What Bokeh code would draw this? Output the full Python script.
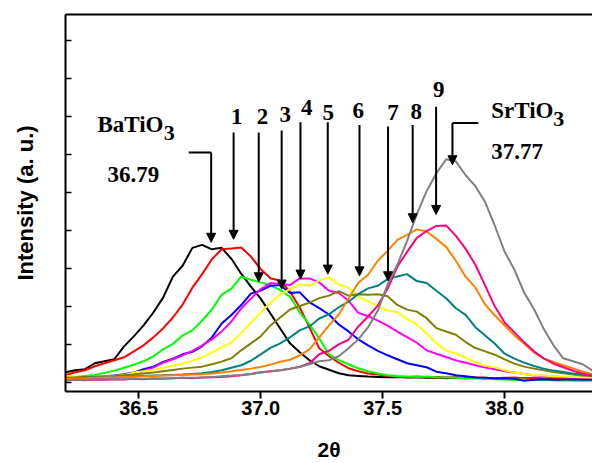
from bokeh.plotting import figure
from bokeh.models import (ColumnDataSource, Arrow, NormalHead, FixedTicker,
                          SingleIntervalTicker, LinearAxis, PrintfTickFormatter,
                          CustomJSTickFormatter)
from bokeh.core.properties import value
from bokeh.embed import file_html
from bokeh.resources import INLINE

# ---------------- data ----------------
two_theta = [36.20, 36.24, 36.28, 36.32, 36.36, 36.40, 36.44, 36.48, 36.52, 36.56,
             36.60, 36.64, 36.68, 36.72, 36.76, 36.80, 36.84, 36.88, 36.92, 36.96,
             37.00, 37.04, 37.08, 37.12, 37.16, 37.20, 37.24, 37.28, 37.32, 37.36,
             37.40, 37.44, 37.48, 37.52, 37.56, 37.60, 37.64, 37.68, 37.72, 37.76,
             37.80, 37.84, 37.88, 37.92, 37.96, 38.00, 38.04, 38.08, 38.12, 38.16,
             38.20, 38.24, 38.28, 38.32, 38.36]

batio3 = [10.0, 12.0, 13.0, 19.0, 21.0, 23.0, 36.0, 46.0, 57.0, 70.0,
          85.0, 106.0, 117.0, 135.0, 138.0, 133.5, 135.0, 124.0, 109.0, 96.0,
          84.0, 69.0, 54.0, 39.0, 30.0, 22.0, 16.0, 12.5, 9.0, 6.9,
          6.3, 5.6, 5.3, 5.0, 5.3, 4.6, 4.9, 4.3, 4.6, 4.0,
          4.3, 3.9, 4.3, 3.6, 4.0, 3.6, 3.3, 3.9, 3.6, 3.3,
          3.0, 3.6, 3.3, 3.0, 3.3]
s1 = [7.0, 10.0, 12.0, 16.0, 19.0, 22.0, 25.0, 31.0, 37.0, 45.0,
      54.0, 65.0, 78.0, 95.0, 108.6, 123.6, 133.6, 134.3, 135.3, 126.3,
      113.6, 104.5, 102.0, 91.0, 75.0, 55.0, 34.0, 26.0, 19.5, 14.0,
      11.0, 8.6, 7.6, 6.3, 5.6, 5.3, 5.6, 4.9, 5.3, 4.6,
      4.9, 4.3, 4.6, 4.3, 3.9, 4.3, 4.6, 3.9, 4.3, 3.6,
      4.0, 3.6, 3.9, 3.3, 3.6]
s2 = [4.3, 5.3, 6.3, 7.3, 9.3, 11.6, 14.5, 17.6, 21.0, 26.0,
      33.0, 38.5, 47.0, 52.0, 62.0, 73.0, 88.0, 94.0, 106.0, 103.0,
      100.3, 97.5, 92.5, 86.0, 70.0, 58.0, 44.0, 28.0, 22.0, 18.0,
      14.0, 11.0, 8.6, 7.0, 6.0, 5.6, 5.3, 5.6, 4.9, 4.6,
      4.3, 3.6, 3.9, 3.3, 3.0, 2.6, 2.3, 2.6, 2.0, 2.3,
      1.6, 2.0, 1.3, 1.6, 1.3]
s3 = [4.3, 4.6, 5.0, 5.3, 5.9, 6.6, 8.0, 9.6, 13.0, 15.6,
      20.3, 23.6, 28.0, 30.5, 36.0, 45.0, 59.0, 67.5, 77.5, 89.0,
      92.0, 96.9, 97.6, 89.6, 90.3, 80.3, 74.5, 68.0, 58.0, 51.0,
      43.0, 37.0, 31.5, 27.0, 23.0, 19.0, 17.0, 15.0, 10.5, 9.0,
      7.0, 6.0, 4.6, 4.3, 3.6, 3.9, 3.3, 1.3, 2.3, 2.9,
      2.3, 2.6, 3.0, 2.3, 2.6]
s4 = [2.6, 3.3, 3.6, 3.9, 4.3, 4.6, 5.6, 7.6, 11.0, 14.6,
      19.6, 23.0, 27.0, 31.5, 37.0, 43.0, 51.0, 61.0, 74.0, 84.0,
      93.6, 99.6, 98.6, 97.6, 104.3, 104.3, 100.3, 91.9, 89.6, 81.9,
      69.6, 66.3, 61.9, 56.9, 50.9, 45.3, 39.6, 31.9, 28.6, 25.3,
      21.9, 19.6, 16.9, 14.6, 12.9, 10.9, 9.6, 8.3, 6.9, 6.3,
      5.6, 5.0, 4.9, 4.6, 4.3]
s5 = [6.0, 5.6, 5.3, 5.6, 5.9, 6.3, 7.3, 9.6, 11.0, 12.5,
      14.3, 16.5, 18.6, 21.5, 25.0, 30.0, 35.0, 40.0, 49.0, 60.0,
      70.0, 80.0, 88.0, 93.6, 98.3, 96.9, 102.3, 105.3, 98.0, 95.0,
      86.0, 81.5, 76.5, 72.0, 70.3, 63.6, 58.0, 49.0, 39.0, 31.6,
      29.0, 24.5, 20.0, 16.8, 15.0, 12.0, 9.6, 8.3, 7.3, 6.6,
      6.0, 5.6, 5.3, 5.0, 4.6]
s6 = [4.6, 4.9, 5.3, 5.6, 5.9, 6.3, 6.9, 7.6, 8.6, 9.6,
      11.0, 12.3, 13.6, 14.6, 15.6, 18.0, 20.6, 24.0, 32.0, 39.0,
      46.0, 57.0, 65.0, 73.0, 76.5, 80.0, 84.5, 87.0, 91.6, 86.9,
      88.3, 87.9, 88.3, 86.3, 77.6, 72.9, 70.9, 64.3, 54.3, 50.9,
      47.6, 40.3, 34.3, 30.9, 27.6, 22.9, 18.6, 15.6, 13.6, 11.9,
      10.3, 8.9, 7.6, 6.6, 6.0]
s7 = [3.6, 3.9, 4.3, 4.6, 4.9, 5.3, 5.6, 6.0, 6.3, 6.6,
      6.9, 7.3, 7.6, 8.3, 9.0, 10.3, 12.0, 14.5, 17.0, 21.5,
      28.0, 34.5, 39.0, 45.0, 52.0, 56.0, 64.0, 68.3, 75.3, 80.9,
      88.6, 94.3, 96.9, 103.6, 106.3, 108.6, 101.6, 99.6, 91.9, 84.3,
      74.3, 67.6, 55.3, 46.9, 38.6, 28.6, 23.6, 19.6, 16.3, 13.6,
      11.6, 10.3, 8.6, 7.6, 6.9]
s8 = [3.3, 3.6, 3.9, 4.3, 4.6, 4.9, 5.3, 5.6, 5.9, 6.3,
      6.6, 6.9, 7.3, 7.6, 8.0, 8.6, 9.6, 10.9, 12.3, 13.6,
      15.3, 17.6, 20.5, 22.5, 27.0, 33.0, 45.0, 57.0, 68.0, 84.0,
      100.0, 108.0, 122.0, 132.0, 143.0, 148.0, 153.6, 151.5, 144.0, 136.0,
      122.0, 106.0, 95.0, 78.0, 67.0, 57.0, 47.0, 38.6, 30.0, 23.6,
      20.3, 17.0, 13.8, 10.5, 8.0]
s9 = [1.6, 2.3, 2.0, 2.6, 2.3, 2.9, 2.6, 3.3, 3.0, 3.6,
      3.3, 3.9, 4.3, 4.0, 4.6, 4.9, 5.3, 6.0, 7.0, 8.3,
      10.0, 11.0, 12.0, 13.5, 15.5, 19.0, 28.0, 31.5, 38.0, 42.6,
      56.0, 66.0, 77.0, 94.0, 116.0, 131.0, 145.0, 151.9, 157.0, 157.6,
      147.0, 134.0, 118.0, 97.0, 76.0, 60.0, 50.0, 40.0, 31.0, 24.0,
      18.5, 15.0, 11.5, 8.6, 6.5]
srtio3 = [2.0, 2.3, 2.3, 2.6, 2.6, 2.9, 2.9, 3.3, 3.3, 3.6,
          3.6, 3.9, 4.3, 4.3, 4.6, 5.3, 6.0, 6.6, 7.3, 8.3,
          9.6, 10.6, 12.0, 13.6, 15.3, 18.0, 21.0, 22.0, 26.0, 34.0,
          43.0, 55.0, 72.0, 98.0, 118.0, 142.0, 169.0, 192.0, 210.0, 224.0,
          222.0, 208.0, 197.0, 181.0, 157.0, 131.0, 113.0, 90.0, 73.6, 53.6,
          37.0, 24.0, 21.0, 18.0, 11.6]

series = [batio3, s1, s2, s3, s4, s5, s6, s7, s8, s9, srtio3]
colors = ["#000000", "#FF0000", "#00FF00", "#0000FF", "#FF00FF", "#FFFF00",
          "#808000", "#008080", "#FF8000", "#FF0080", "#808080"]

xticks = [36.5, 37.0, 37.5, 38.0]

# peak markers (arrows) for samples 1..9
num_labels = ["1", "2", "3", "4", "5", "6", "7", "8", "9"]
num_x = [36.902, 37.007, 37.101, 37.189, 37.277, 37.400, 37.542, 37.638, 37.730]
num_y = [267.0, 267.0, 269.0, 276.0, 271.0, 273.0, 271.0, 272.0, 294.0]
arrow_x = [36.889, 36.992, 37.086, 37.163, 37.275, 37.405, 37.522, 37.623, 37.719]
arrow_top = [250.9, 250.9, 252.9, 261.3, 261.3, 258.6, 256.9, 258.6, 276.9]
arrow_tip = [143.6, 100.9, 93.6, 103.6, 108.6, 106.9, 101.9, 160.3, 168.6]

# end members
ba_peak, ba_bracket_y, ba_tip, ba_bracket_x0 = 36.797, 230.9, 140.6, 36.705
sr_peak, sr_bracket_y, sr_tip, sr_bracket_x1 = 37.786, 260.6, 218.6, 37.892

# ---------------- figure ----------------
p = figure(width=592, height=463, x_range=(36.2, 38.36), y_range=(-9.4, 369.6),
           output_backend="svg", toolbar_location=None,
           min_border_left=65, min_border_right=0, min_border_top=14, min_border_bottom=70)
p.outline_line_color = None
p.xgrid.visible = False
p.ygrid.visible = False
p.background_fill_color = "white"
p.border_fill_color = "white"

xa = p.xaxis[0]
xa.ticker = FixedTicker(ticks=xticks)
xa.formatter = PrintfTickFormatter(format="%.1f")
xa.major_tick_out = 7
xa.major_tick_in = 0
xa.minor_tick_out = 0
xa.minor_tick_in = 0
xa.axis_line_width = 2
xa.major_tick_line_width = 2
xa.major_label_text_font = "Liberation Sans"
xa.major_label_text_font_style = "bold"
xa.major_label_text_font_size = "20px"
xa.major_label_text_color = "black"
xa.major_label_standoff = 2
xa.axis_label = "2θ"
xa.axis_label_text_font = "Liberation Sans"
xa.axis_label_text_font_style = "bold"
xa.axis_label_text_font_size = "21px"
xa.axis_label_text_color = "black"
xa.axis_label_standoff = 20

ya = p.yaxis[0]
ya.ticker = SingleIntervalTicker(interval=38.2, num_minor_ticks=0)
ya.formatter = CustomJSTickFormatter(code="return ''")
ya.major_tick_in = 6
ya.major_tick_out = 0
ya.minor_tick_in = 0
ya.minor_tick_out = 0
ya.axis_line_width = 2
ya.major_tick_line_width = 1.5
ya.major_label_text_color = None
ya.major_label_standoff = 0
ya.axis_label = "Intensity (a. u.)"
ya.axis_label_text_font = "Liberation Sans"
ya.axis_label_text_font_style = "bold"
ya.axis_label_text_font_size = "22px"
ya.axis_label_text_color = "black"
ya.axis_label_standoff = 28

top = LinearAxis(ticker=FixedTicker(ticks=[]), major_label_text_color=None,
                 major_tick_line_color=None, minor_tick_line_color=None,
                 axis_line_width=2, major_label_standoff=0)
p.add_layout(top, "above")

for ys, c in zip(series, colors):
    p.line(two_theta, ys, line_color=c, line_width=2)

# arrows
arrows = ColumnDataSource(dict(
    x0=arrow_x + [ba_peak, sr_peak], y0=arrow_top + [ba_bracket_y, sr_bracket_y],
    x1=arrow_x + [ba_peak, sr_peak], y1=arrow_tip + [ba_tip, sr_tip]))
p.add_layout(Arrow(end=NormalHead(size=9, fill_color="black", line_color="black"),
                   x_start="x0", y_start="y0", x_end="x1", y_end="y1",
                   line_width=2, line_color="black", source=arrows))
p.segment(x0=[ba_bracket_x0, sr_peak], y0=[ba_bracket_y, sr_bracket_y],
          x1=[ba_peak, sr_bracket_x1], y1=[ba_bracket_y, sr_bracket_y],
          line_color="black", line_width=2)

serif = dict(text_font=value("Liberation Serif"), text_font_style="bold",
             text_color="black")
p.text(x=num_x, y=num_y, text=num_labels, text_align="center",
       text_baseline="alphabetic", text_font_size="23px", **serif)
p.text(x=[36.331, 37.945], y=[259.0, 273.5], text=["BaTiO", "SrTiO"],
       text_align="left", text_baseline="alphabetic", text_font_size="23px", **serif)
p.text(x=[36.603, 38.1995], y=[250.5, 264.5], text=["3", "3"],
       text_align="left", text_baseline="alphabetic", text_font_size="22px", **serif)
p.text(x=[36.372, 37.945], y=[209.0, 232.0], text=["36.79", "37.77"],
       text_align="left", text_baseline="alphabetic", text_font_size="23px", **serif)

open("out.html", "w").write(file_html(p, INLINE))
